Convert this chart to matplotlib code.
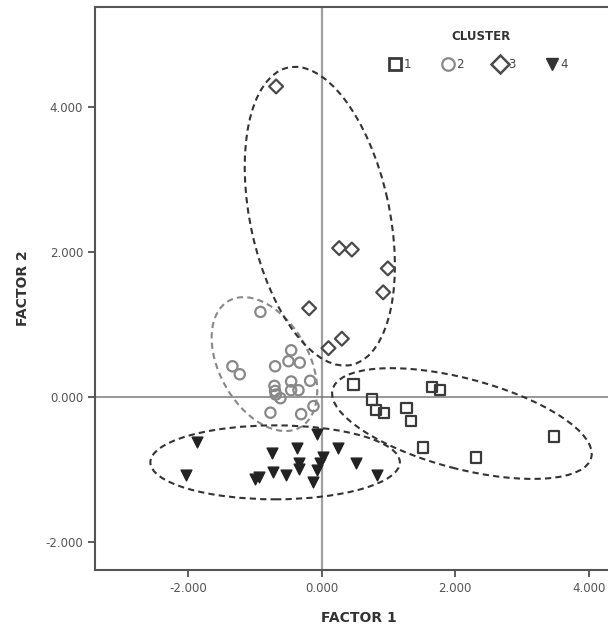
import matplotlib.pyplot as plt
from matplotlib.patches import Ellipse
from matplotlib.lines import Line2D
from matplotlib.ticker import FormatStrFormatter

# cluster 1 (squares)
c1_x = [0.475, 1.65, 1.77, 0.75, 0.81, 0.93, 1.27, 1.34, 1.52, 2.31, 3.48]
c1_y = [0.18, 0.14, 0.10, -0.03, -0.17, -0.21, -0.15, -0.32, -0.69, -0.83, -0.54]

# cluster 2 (circles)
c2_x = [-0.92, -1.34, -1.23, -0.46, -0.70, -0.50, -0.33, -0.175, -0.46, -0.71,
        -0.70, -0.69, -0.62, -0.46, -0.35, -0.77, -0.31, -0.125]
c2_y = [1.18, 0.43, 0.32, 0.65, 0.43, 0.50, 0.48, 0.23, 0.22, 0.16,
        0.09, 0.04, -0.01, 0.10, 0.10, -0.21, -0.23, -0.12]

# cluster 3 (diamonds)
c3_x = [-0.685, 0.26, 0.45, 0.99, 0.92, -0.19, 0.30, 0.10]
c3_y = [4.29, 2.06, 2.04, 1.78, 1.45, 1.23, 0.81, 0.68]

# cluster 4 (triangles)
c4_x = [-1.87, -2.03, -1.00, -0.94, -0.75, -0.725, -0.54, -0.365, -0.335, -0.335,
        -0.075, 0.015, -0.03, -0.075, -0.135, 0.25, 0.51, 0.82]
c4_y = [-0.61, -1.07, -1.12, -1.10, -0.77, -1.03, -1.07, -0.70, -0.91, -0.99,
        -0.50, -0.82, -0.90, -1.00, -1.16, -0.70, -0.91, -1.07]

# confidence ellipses: center, width, height, angle
ell_center = [(2.10, -0.36), (-0.86, 0.46), (-0.03, 2.50), (-0.70, -0.895)]
ell_width = [3.99, 2.05, 4.21, 3.74]
ell_height = [1.25, 1.31, 2.08, 1.02]
ell_angle = [-13.4, 124.3, 103.6, 0.0]
ell_color = ['#333333', '#888888', '#333333', '#333333']

ticks = [-2, 0, 2, 4]
cluster_labels = ['1', '2', '3', '4']

fig = plt.figure(figsize=(6.08, 6.30), dpi=100)
ax = fig.add_axes([95 / 608, 60 / 630, 527 / 608, 563.3 / 630])

ax.axvline(0, color='#a0a0a0', lw=1.6, zorder=1)
ax.axhline(0, color='#7a7a7a', lw=1.1, zorder=1)

for c, w, h, a, col in zip(ell_center, ell_width, ell_height, ell_angle, ell_color):
    ax.add_patch(Ellipse(c, w, h, angle=a, fill=False, edgecolor=col,
                         lw=1.5, ls=(0, (3, 2)), zorder=2))

ax.scatter(c1_x, c1_y, marker='s', s=55, facecolor='none', edgecolor='#3a3a3a',
           linewidths=1.6, zorder=3)
ax.scatter(c2_x, c2_y, marker='o', s=55, facecolor='none', edgecolor='#888888',
           linewidths=1.6, zorder=3)
ax.scatter(c3_x, c3_y, marker='D', s=50, facecolor='none', edgecolor='#4a4a4a',
           linewidths=1.6, zorder=3)
ax.scatter(c4_x, c4_y, marker='v', s=60, facecolor='#222222', edgecolor='#222222',
           linewidths=1, zorder=3)

ax.set_xlim(-3.40, 4.50)
ax.set_ylim(-2.38, 5.39)
ax.set_xticks(ticks)
ax.set_yticks(ticks)
ax.xaxis.set_major_formatter(FormatStrFormatter('%.3f'))
ax.yaxis.set_major_formatter(FormatStrFormatter('%.3f'))
ax.tick_params(direction='out', length=5, width=1.2, color='#444444',
               labelsize=8.5, labelcolor='#555555')
for sp in ax.spines.values():
    sp.set_color('#555555')
    sp.set_linewidth(1.5)

ax.set_xlabel('FACTOR 1', fontsize=10, fontweight='bold', color='#333333', labelpad=12)
ax.set_ylabel('FACTOR 2', fontsize=10, fontweight='bold', color='#333333', labelpad=11)

handles = [
    Line2D([], [], marker='s', ls='none', ms=9, mfc='none', mec='#3a3a3a', mew=2),
    Line2D([], [], marker='o', ls='none', ms=9, mfc='none', mec='#888888', mew=1.6),
    Line2D([], [], marker='D', ls='none', ms=9, mfc='none', mec='#4a4a4a', mew=1.8),
    Line2D([], [], marker='v', ls='none', ms=9, mfc='#333333', mec='#333333'),
]
leg = ax.legend(handles, cluster_labels, ncol=4, frameon=False,
                loc='center', bbox_to_anchor=((478 - 95) / 527, 1 - (65 - 6.7) / 563.3),
                borderpad=0, handletextpad=0.1, columnspacing=2.5, handlelength=1.2,
                fontsize=8.5)
for t in leg.get_texts():
    t.set_color('#444444')
ax.text((481 - 95) / 527, 1 - (37 - 6.7) / 563.3, 'CLUSTER', transform=ax.transAxes,
        ha='center', va='center', fontsize=8.5, fontweight='bold', color='#333333')

fig.savefig('out.png', dpi=100)
